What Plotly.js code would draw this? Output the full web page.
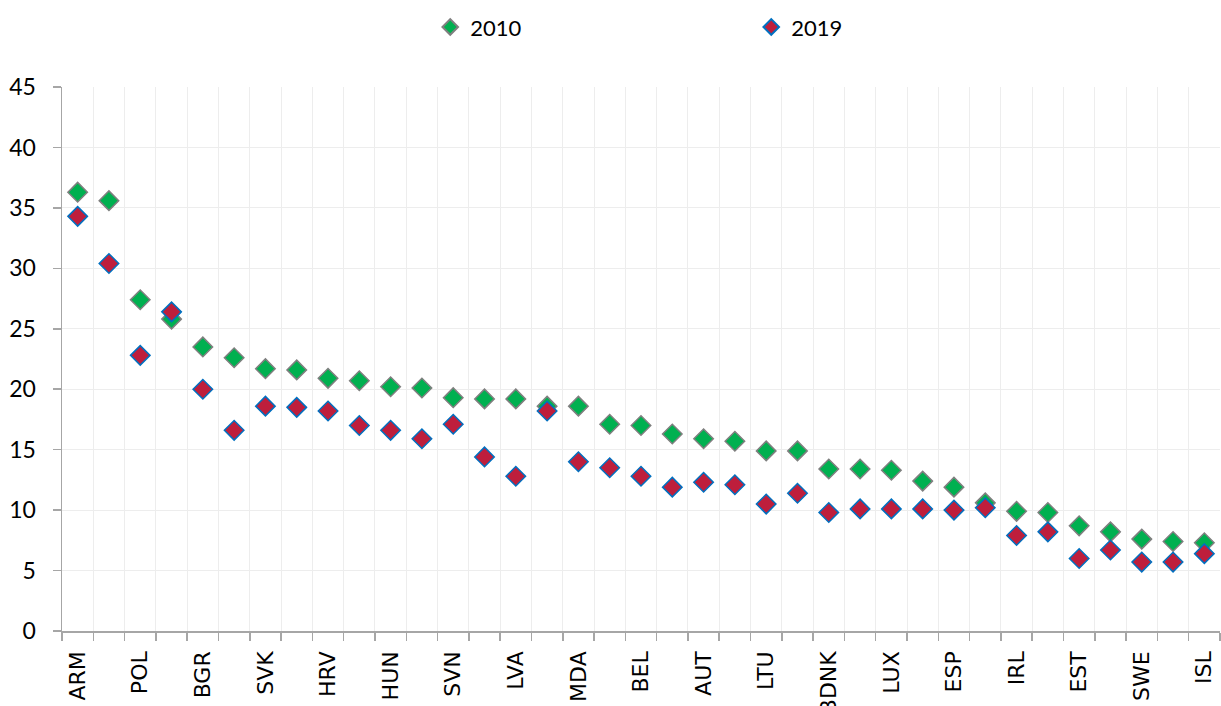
<!DOCTYPE html>
<html>
<head>
<meta charset="utf-8">
<script src="https://cdn.plot.ly/plotly-3.0.1.min.js"></script>
<style>html,body{margin:0;padding:0;background:#fff;}#chart{width:1221px;height:706px;}</style>
</head>
<body>
<div id="chart"></div>
<script>
// Tick labels shown on the axis (every second category is labelled)
var shownLabels = ["ARM","POL","BGR","SVK","HRV","HUN","SVN","LVA","MDA","BEL","AUT","LTU","BDNK","LUX","ESP","IRL","EST","SWE","ISL"];
// Values per category position (37 categories, in order)
var values2010 = [36.3,35.6,27.4,25.8,23.5,22.6,21.7,21.6,20.9,20.7,20.2,20.1,19.3,19.2,19.2,18.6,18.6,17.1,17.0,16.3,15.9,15.7,14.9,14.9,13.4,13.4,13.3,12.4,11.9,10.6,9.9,9.8,8.7,8.2,7.6,7.4,7.3];
var values2019 = [34.3,30.4,22.8,26.4,20.0,16.6,18.6,18.5,18.2,17.0,16.6,15.9,17.1,14.4,12.8,18.2,14.0,13.5,12.8,11.9,12.3,12.1,10.5,11.4,9.8,10.1,10.1,10.1,10.0,10.2,7.9,8.2,6.0,6.7,5.7,5.7,6.4];

var pos = values2010.map(function(_, i){ return i; });
var tickPos = shownLabels.map(function(_, i){ return i * 2; });

var traces = [
  {
    x: pos, y: values2010, name: "2010", type: "scatter", mode: "markers",
    marker: {symbol: "diamond", size: 15, color: "#00B050", line: {color: "#7F7F7F", width: 1.5}}
  },
  {
    x: pos, y: values2019, name: "2019", type: "scatter", mode: "markers",
    marker: {symbol: "diamond", size: 15, color: "#BE1E3C", line: {color: "#0070C0", width: 1.5}}
  }
];

var layout = {
  width: 1221, height: 706,
  margin: {l: 62, r: 1, t: 87, b: 75},
  paper_bgcolor: "#ffffff", plot_bgcolor: "#ffffff",
  showlegend: true,
  legend: {
    orientation: "h", x: 0.318, xanchor: "left", y: 1.11, yanchor: "middle",
    font: {family: "Lato, Liberation Sans, sans-serif", size: 22, color: "#000"},
    entrywidth: 276, entrywidthmode: "pixels", itemsizing: "constant",
    bgcolor: "rgba(0,0,0,0)"
  },
  xaxis: {
    range: [-0.5, 36.5], type: "linear",
    tickmode: "array", tickvals: tickPos, ticktext: shownLabels,
    tickangle: -90, ticks: "outside", ticklen: 8, tickcolor: "rgba(0,0,0,0)",
    ticklabelstandoff: 2,
    tickfont: {family: "DejaVu Sans, Verdana, sans-serif", size: 22, color: "#000"},
    showgrid: false, zeroline: false,
    showline: true, linecolor: "#A6A6A6", linewidth: 1.5,
    minor: {tick0: -0.5, dtick: 1, showgrid: true, gridcolor: "#EDEDED", gridwidth: 1,
            ticks: "outside", ticklen: 8, tickcolor: "#A6A6A6", tickwidth: 1.5}
  },
  yaxis: {
    range: [0, 45], dtick: 5, tick0: 0,
    ticks: "outside", ticklen: 8, tickcolor: "#A6A6A6", tickwidth: 1.5,
    ticklabelstandoff: 12,
    tickfont: {family: "Lato, Liberation Sans, sans-serif", size: 23, color: "#000"},
    showgrid: true, gridcolor: "#EDEDED", gridwidth: 1.2,
    zeroline: false, showline: true, linecolor: "#A6A6A6", linewidth: 1.5
  }
};

Plotly.newPlot("chart", traces, layout, {displayModeBar: false, staticPlot: true});
</script>
</body>
</html>
